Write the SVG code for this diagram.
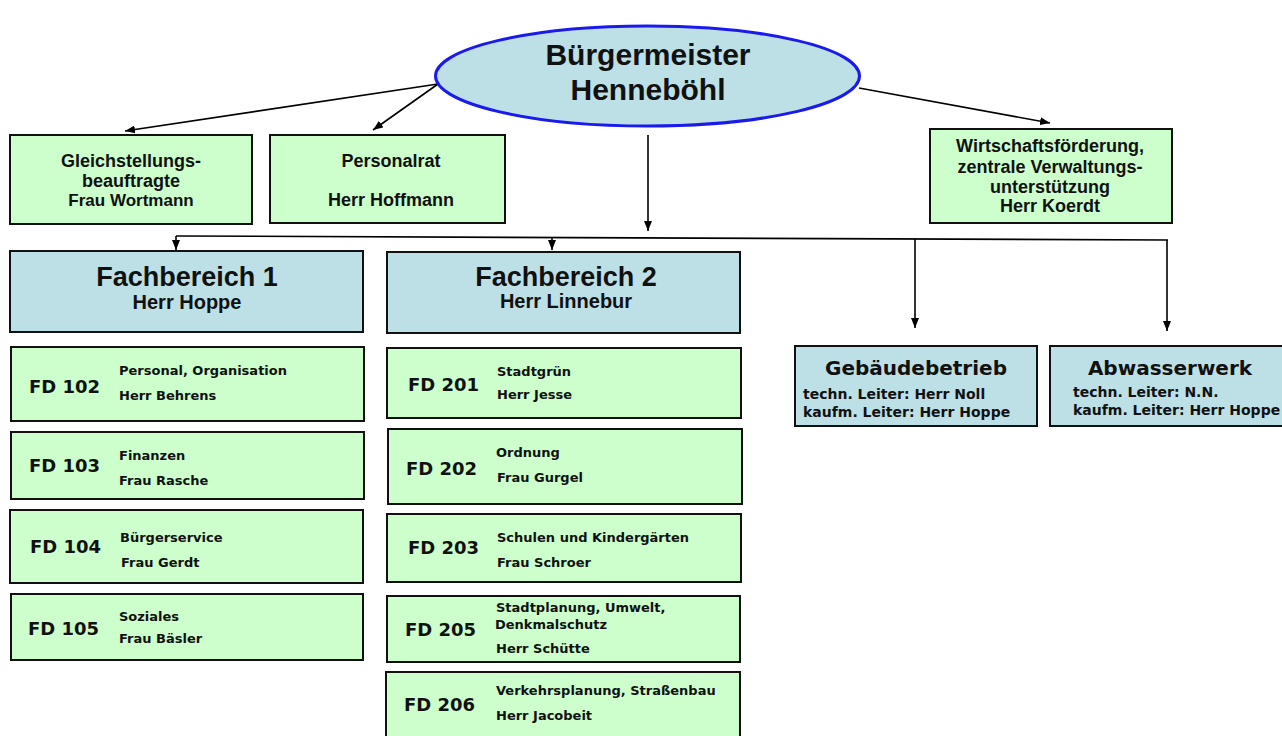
<svg xmlns="http://www.w3.org/2000/svg" width="1282" height="736" viewBox="0 0 1282 736">
<defs>
<marker id="ah" markerUnits="userSpaceOnUse" markerWidth="10" markerHeight="8" refX="10" refY="4" orient="auto">
<path d="M0,0 L10,4 L0,8 z" fill="#000"/>
</marker>
<style>
.g{fill:#ccffcc;stroke:#111;stroke-width:2}
.b{fill:#bde0e6;stroke:#111;stroke-width:2}
.c{stroke:#000;stroke-width:1.6;fill:none}
.ca{stroke:#000;stroke-width:1.6;fill:none;marker-end:url(#ah)}
.t18{font-family:"Liberation Sans",Arial,sans-serif;font-weight:bold;font-size:18px;fill:#111;text-anchor:middle}
.t17{font-family:"Liberation Sans",Arial,sans-serif;font-weight:bold;font-size:17px;fill:#111;text-anchor:middle}
.big{font-family:"Liberation Sans",Arial,sans-serif;font-weight:bold;font-size:30px;fill:#111;text-anchor:middle}
.fb{font-family:"Liberation Sans",Arial,sans-serif;font-weight:bold;font-size:27px;fill:#111;text-anchor:middle}
.fbn{font-family:"Liberation Sans",Arial,sans-serif;font-weight:bold;font-size:20px;fill:#111;text-anchor:middle}
.fd{font-family:"DejaVu Sans",sans-serif;font-weight:bold;font-size:18px;fill:#111}
.d{font-family:"DejaVu Sans",sans-serif;font-weight:bold;font-size:13px;fill:#111}
.eh{font-family:"DejaVu Sans",sans-serif;font-weight:bold;font-size:20px;fill:#111;text-anchor:middle}
.es{font-family:"DejaVu Sans",sans-serif;font-weight:bold;font-size:14px;fill:#111}
</style>
</defs>
<rect width="1282" height="736" fill="#fff"/>

<g id="connectors">
<line class="ca" x1="438" y1="84" x2="125" y2="131"/>
<line class="ca" x1="438" y1="84" x2="373" y2="130"/>
<line class="ca" x1="859" y1="88" x2="1050" y2="123"/>
<line class="ca" x1="648" y1="135" x2="648" y2="231"/>
<line class="c" x1="176" y1="236" x2="1168" y2="240"/>
<line class="ca" x1="176" y1="236" x2="176" y2="250"/>
<line class="ca" x1="552" y1="237.5" x2="552" y2="250"/>
<line class="ca" x1="915" y1="239" x2="915" y2="328"/>
<line class="ca" x1="1167" y1="240" x2="1167" y2="331"/>
</g>

<g id="buergermeister">
<ellipse cx="647.5" cy="76" rx="212" ry="50" fill="#bde0e6" stroke="#1a1aee" stroke-width="3"/>
<text class="big" x="648" y="65">Bürgermeister</text>
<text class="big" x="648" y="100">Henneböhl</text>
</g>

<g id="gleichstellung">
<rect class="g" x="10" y="135" width="242" height="89"/>
<text class="t18" x="131" y="167">Gleichstellungs-</text>
<text class="t18" x="131" y="187">beauftragte</text>
<text class="t17" x="131" y="206">Frau Wortmann</text>
</g>

<g id="personalrat">
<rect class="g" x="270" y="135" width="235" height="88"/>
<text class="t18" x="391" y="167">Personalrat</text>
<text class="t18" x="391" y="206">Herr Hoffmann</text>
</g>

<g id="wirtschaft">
<rect class="g" x="930" y="129" width="242" height="94"/>
<text class="t18" x="1050" y="152">Wirtschaftsförderung,</text>
<text class="t18" x="1050" y="173">zentrale Verwaltungs-</text>
<text class="t18" x="1050" y="193">unterstützung</text>
<text class="t18" x="1050" y="212">Herr Koerdt</text>
</g>

<g id="fb1">
<rect class="b" x="10" y="251" width="353" height="81"/>
<text class="fb" x="187" y="286">Fachbereich 1</text>
<text class="fbn" x="187" y="309">Herr Hoppe</text>
</g>

<g id="fb2">
<rect class="b" x="387" y="252" width="353" height="81"/>
<text class="fb" x="566" y="286">Fachbereich 2</text>
<text class="fbn" x="566" y="308">Herr Linnebur</text>
</g>

<g id="fd102">
<rect class="g" x="11" y="347" width="353" height="74"/>
<text class="fd" x="29" y="393">FD 102</text>
<text class="d" x="119" y="375">Personal, Organisation</text>
<text class="d" x="119" y="400">Herr Behrens</text>
</g>
<g id="fd103">
<rect class="g" x="11" y="432" width="353" height="67"/>
<text class="fd" x="29" y="472">FD 103</text>
<text class="d" x="119" y="460">Finanzen</text>
<text class="d" x="119" y="485">Frau Rasche</text>
</g>
<g id="fd104">
<rect class="g" x="10" y="510" width="353" height="73"/>
<text class="fd" x="30" y="553">FD 104</text>
<text class="d" x="120" y="542">Bürgerservice</text>
<text class="d" x="121" y="567">Frau Gerdt</text>
</g>
<g id="fd105">
<rect class="g" x="11" y="594" width="352" height="66"/>
<text class="fd" x="28" y="635">FD 105</text>
<text class="d" x="119" y="621">Soziales</text>
<text class="d" x="119" y="643">Frau Bäsler</text>
</g>

<g id="fd201">
<rect class="g" x="387" y="348" width="354" height="70"/>
<text class="fd" x="408" y="391">FD 201</text>
<text class="d" x="497" y="376">Stadtgrün</text>
<text class="d" x="497" y="399">Herr Jesse</text>
</g>
<g id="fd202">
<rect class="g" x="388" y="429" width="354" height="75"/>
<text class="fd" x="406" y="475">FD 202</text>
<text class="d" x="496" y="457">Ordnung</text>
<text class="d" x="497" y="482">Frau Gurgel</text>
</g>
<g id="fd203">
<rect class="g" x="387" y="514" width="354" height="68"/>
<text class="fd" x="408" y="554">FD 203</text>
<text class="d" x="497" y="542">Schulen und Kindergärten</text>
<text class="d" x="497" y="567">Frau Schroer</text>
</g>
<g id="fd205">
<rect class="g" x="387" y="596" width="353" height="66"/>
<text class="fd" x="405" y="636">FD 205</text>
<text class="d" x="496" y="612">Stadtplanung, Umwelt,</text>
<text class="d" x="495" y="629">Denkmalschutz</text>
<text class="d" x="496" y="653">Herr Schütte</text>
</g>
<g id="fd206">
<rect class="g" x="386" y="672" width="354" height="72"/>
<text class="fd" x="404" y="711">FD 206</text>
<text class="d" x="496" y="695">Verkehrsplanung, Straßenbau</text>
<text class="d" x="496" y="720">Herr Jacobeit</text>
</g>

<g id="gebaeude">
<rect class="b" x="795" y="346" width="242" height="80"/>
<text class="eh" x="916" y="375">Gebäudebetrieb</text>
<text class="es" x="803" y="399">techn. Leiter: Herr Noll</text>
<text class="es" x="803" y="417">kaufm. Leiter: Herr Hoppe</text>
</g>

<g id="abwasser">
<rect class="b" x="1050" y="346" width="240" height="80"/>
<text class="eh" x="1170" y="375">Abwasserwerk</text>
<text class="es" x="1073" y="397">techn. Leiter: N.N.</text>
<text class="es" x="1073" y="415">kaufm. Leiter: Herr Hoppe</text>
</g>
</svg>
